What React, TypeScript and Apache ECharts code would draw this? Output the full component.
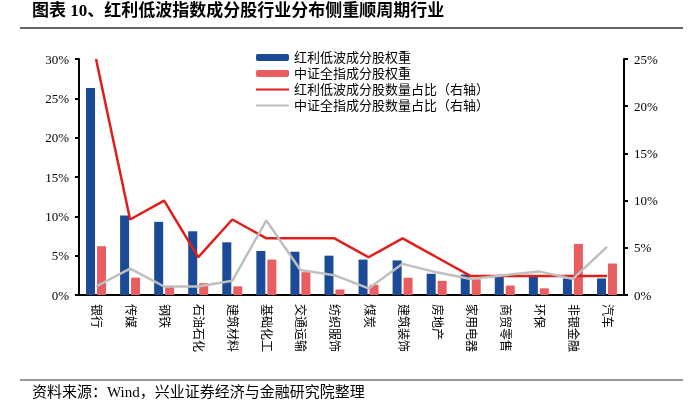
import React, { useEffect, useRef } from "react";
import * as echarts from "echarts";

const categories = ["银行", "传媒", "钢铁", "石油石化", "建筑材料", "基础化工", "交通运输", "纺织服饰", "煤炭", "建筑装饰", "房地产", "家用电器", "商贸零售", "环保", "非银金融", "汽车"];
const divWeight = [26.3, 10.1, 9.3, 8.1, 6.7, 5.6, 5.5, 5.0, 4.5, 4.4, 2.7, 2.6, 2.4, 2.4, 2.1, 2.1];
const csiWeight = [6.2, 2.2, 1.0, 1.5, 1.1, 4.5, 2.9, 0.7, 1.3, 2.2, 1.8, 2.0, 1.2, 0.85, 6.5, 4.0];
const divCount = [25, 8, 10, 4, 8, 6, 6, 6, 4, 6, 4, 2, 2, 2, 2, 2];
const csiCount = [0.9, 2.8, 0.9, 0.9, 1.5, 7.9, 2.65, 2.1, 0.7, 3.3, 2.4, 1.7, 2.1, 2.5, 1.7, 5.1];

const seriesNames = ["红利低波成分股权重", "中证全指成分股权重", "红利低波成分股数量占比（右轴）", "中证全指成分股数量占比（右轴）"];
const titleText = "图表 10、红利低波指数成分股行业分布侧重顺周期行业";
const sourceText = "资料来源：Wind，兴业证券经济与金融研究院整理";

const FONT = "'Liberation Serif', 'Noto Sans CJK SC', serif";

export default function App() {
  const ref = useRef<HTMLDivElement>(null);
  useEffect(() => {
    if (!ref.current) return;
    const chart = echarts.init(ref.current, undefined, { renderer: "svg" });
    const axisLine = { show: true, lineStyle: { color: "#000", width: 2 } };
    chart.setOption({
      animation: false,
      textStyle: { fontFamily: FONT, color: "#000" },
      grid: { left: 79, right: 76, top: 59, bottom: 114 },
      legend: {
        orient: "vertical",
        left: 250,
        top: 46,
        itemWidth: 33,
        itemHeight: 7,
        itemGap: 3,
        textStyle: { fontSize: 13, fontFamily: FONT, color: "#000" },
        data: [
          { name: seriesNames[0] },
          { name: seriesNames[1] },
          { name: seriesNames[2], itemStyle: { opacity: 0 }, lineStyle: { width: 2 } },
          { name: seriesNames[3], itemStyle: { opacity: 0 }, lineStyle: { width: 2 } },
        ],
      },
      xAxis: {
        type: "category",
        data: categories,
        axisLine,
        axisTick: { show: false },
        axisLabel: { rotate: -90, fontSize: 12, color: "#000", margin: 9, interval: 0, fontFamily: FONT },
      },
      yAxis: [
        {
          type: "value",
          min: 0,
          max: 30,
          interval: 5,
          axisLine,
          axisTick: { show: true, length: 4, lineStyle: { color: "#000", width: 2 } },
          splitLine: { show: false },
          axisLabel: { formatter: "{value}%", fontSize: 13, color: "#000", margin: 10, fontFamily: FONT },
        },
        {
          type: "value",
          min: 0,
          max: 25,
          interval: 5,
          position: "right",
          axisLine,
          axisTick: { show: true, length: 4, lineStyle: { color: "#000", width: 2 } },
          splitLine: { show: false },
          axisLabel: { formatter: "{value}%", fontSize: 13, color: "#000", margin: 10, fontFamily: FONT },
        },
      ],
      series: [
        { name: seriesNames[0], type: "bar", data: divWeight, barWidth: 9, barGap: "22%", itemStyle: { color: "#1B4A96" } },
        { name: seriesNames[1], type: "bar", data: csiWeight, barWidth: 9, barGap: "22%", itemStyle: { color: "#E85D5F" } },
        { name: seriesNames[2], type: "line", yAxisIndex: 1, data: divCount, symbol: "none", lineStyle: { color: "#E01E1A", width: 2.5 }, itemStyle: { color: "#E01E1A" } },
        { name: seriesNames[3], type: "line", yAxisIndex: 1, data: csiCount, symbol: "none", lineStyle: { color: "#BFBFBF", width: 2.5 }, itemStyle: { color: "#BFBFBF" } },
      ],
      graphic: [
        { type: "text", left: 32, top: 2, style: { text: titleText, fontSize: 17, fontWeight: "bold", fontFamily: FONT, fill: "#000" } },
        { type: "line", shape: { x1: 20, y1: 28, x2: 683, y2: 28 }, style: { stroke: "#333", lineWidth: 1.5 } },
        { type: "line", shape: { x1: 20, y1: 380, x2: 683, y2: 380 }, style: { stroke: "#777", lineWidth: 1.5 } },
        { type: "text", left: 32, top: 384, style: { text: sourceText, fontSize: 15, fontFamily: FONT, fill: "#000" } },
      ],
    });
    return () => chart.dispose();
  }, []);
  return <div ref={ref} style={{ position: "fixed", left: 0, top: 0, width: 700, height: 409 }} />;
}
